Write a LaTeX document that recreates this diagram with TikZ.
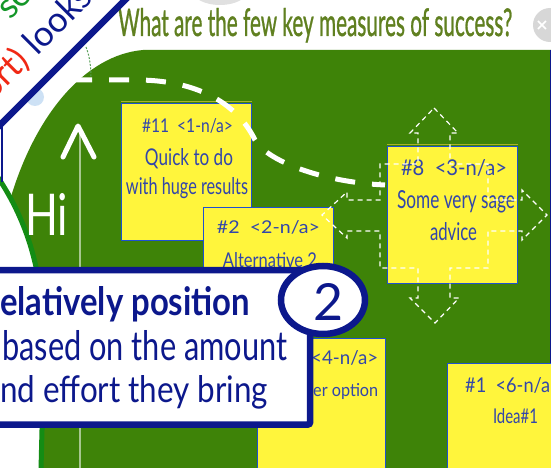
\documentclass[tikz,border=0pt]{standalone}
\usepackage{fontspec}
\setmainfont{Lato}
\newfontfamily\dejavu{DejaVu Sans}
\newfontfamily\titlefont[FakeBold=1.2]{Lato}
\usepackage{graphicx}
\newcommand{\fitbox}[3]{\resizebox{#1pt}{#2pt}{#3}}
\definecolor{panel}{RGB}{62,131,8}
\definecolor{navy}{RGB}{12,24,140}
\definecolor{titlegreen}{RGB}{96,128,32}
\definecolor{sticky}{RGB}{255,245,60}
\definecolor{boxblue}{RGB}{30,80,210}
\definecolor{boxtext}{RGB}{50,70,170}
\definecolor{olivetop}{RGB}{170,180,40}
\definecolor{arcgreen}{RGB}{20,140,20}
\definecolor{lightblue}{RGB}{205,225,245}
\definecolor{closegrey}{RGB}{215,215,215}
\definecolor{effortred}{RGB}{240,40,20}
\definecolor{segreen}{RGB}{20,150,40}
\definecolor{guidegreen}{RGB}{90,160,90}
\tikzset{
  ybox/.style={draw=boxblue, fill=sticky, line width=1.3pt, inner sep=0, anchor=north west},
  btxt/.style={text=boxtext, inner sep=0, anchor=base},
  ctxt/.style={text=navy, inner sep=0, anchor=base west},
  movecross/.style={draw=white, line width=1.2pt, dash pattern=on 5pt off 4pt},
  olivelin/.style={draw=olivetop, line width=1.5pt},
}
\begin{document}
\begin{tikzpicture}[x=1pt,y=-1pt]
\useasboundingbox (0,0) rectangle (551,468);
\fill[white] (0,0) rectangle (551,468);
% faint shadow at top
\fill[black!12] (220,-10) ellipse [x radius=28pt, y radius=15pt];
% title
\node[anchor=base west, inner sep=0, text=titlegreen] (title) at (118,36) {\fitbox{394}{28}{\titlefont What are the few key measures of success?}};
% close button
\fill[closegrey] (550,25) circle (17pt);
\node[text=white, inner sep=0] (close) at (542,26) {\dejavu\bfseries\fontsize{16}{16}\selectfont ×};
% green panel
\fill[panel] (551,50) -- (143,50) .. controls (85,55) and (35,115) .. (10,200) -- (0,240) -- (0,468) -- (551,468) -- cycle;
\draw[navy, line width=1.5pt] (550.5,50) -- (550.5,468);
% white circle with green border at the left
\fill[white] (-5,170) -- (-3,176) .. controls (35,232) and (44,290) .. (44,350) -- (41,470) -- (-5,470) -- cycle;
\draw[arcgreen, line width=5pt] (-3,176) .. controls (35,232) and (44,290) .. (44,350) -- (41,470);
% axis
\draw[white, opacity=0.55, line width=2pt] (80,130) -- (80,468);
\draw[white, line width=5pt, line cap=round, line join=round] (63,157) -- (78,126) -- (94,157);
\node[anchor=base west, inner sep=0, text=white] (hi) at (25,235) {\fitbox{43}{42}{Hi}};
% banner top-left
\fill[lightblue] (35,97) circle (9pt);
\fill[white] (-5,-5) -- (130,-5) -- (-5,130) -- cycle;
\draw[navy, line width=6.5pt] (-5,130) -- (130,-5);
\draw[navy, line width=2pt] (2,127) -- (2,182);
\node[rotate=45, anchor=base east, inner sep=0, text=navy] (looks) at (94.6,-0.6) {\fontsize{35}{35}\selectfont{\color{effortred}ort)} looks};
\node[rotate=45, anchor=base west, inner sep=0, text=segreen] (se) at (10,21) {\fontsize{35}{35}\selectfont se};
\draw[guidegreen, line width=1pt, dash pattern=on 2pt off 1.5pt] (86,47) .. controls (90,57) and (91,68) .. (91,79);
% sticky notes
\node[ybox, minimum width=130pt, minimum height=137pt] (b1) at (121,103) {};
\draw[olivelin] ([yshift=1.5pt]b1.north west) -- ([yshift=1.5pt]b1.north east);
\node[btxt] (t1a) at (187.5,132) {\fitbox{91}{14}{\#11\ \ <1-n/a>}};
\node[btxt] (t1b) at (189,165) {\fitbox{88}{17}{Quick to do}};
\node[btxt] (t1c) at (187,194) {\fitbox{122}{17}{with huge results}};
\node[ybox, minimum width=130pt, minimum height=100pt] (b2) at (203,207) {};
\node[btxt] (t2a) at (268.5,233) {\fitbox{103}{13}{\#2\ \ <2-n/a>}};
\node[btxt] (t2b) at (270,267) {\fitbox{94}{15}{Alternative 2}};
\node[ybox, minimum width=130pt, minimum height=137pt] (b8) at (387,146) {};
\draw[olivelin] ([yshift=1.5pt]b8.north west) -- ([yshift=1.5pt]b8.north east);
\node[btxt] (t8a) at (454,175) {\fitbox{106}{16}{\#8\ \ <3-n/a>}};
\node[btxt] (t8b) at (456,208) {\fitbox{118}{18}{Some very sage}};
\node[btxt] (t8c) at (453.5,240) {\fitbox{47}{18}{advice}};
\node[ybox, minimum width=128pt, minimum height=140pt] (b4) at (257,338) {};
\node[btxt, anchor=base west] (t4a) at (311,364) {\fitbox{67}{14}{<4-n/a>}};
\node[btxt, anchor=base west] (t4b) at (313,396) {\fitbox{65}{13}{er option}};
\node[ybox, minimum width=120pt, minimum height=120pt] (b6) at (447,363) {};
\node[btxt, anchor=base west] (t6a) at (465,392) {\fitbox{85}{15}{\#1\ \ <6-n/a}};
\node[btxt] (t6b) at (515.5,423) {\fitbox{45}{15}{Idea\#1}};
% move cross around note #8
\draw[movecross] (434,108) -- (458,133) -- (450,133) -- (450,164) -- (488,164) -- (488,200) -- (522,200) -- (522,190) -- (547,215) -- (522,240) -- (522,231) -- (488,231) -- (488,268) -- (450,268) -- (450,298) -- (459,298) -- (435,323) -- (410,298) -- (418,298) -- (418,268) -- (380,268) -- (380,231) -- (347,231) -- (347,238) -- (322,215) -- (347,192) -- (347,200) -- (380,200) -- (380,164) -- (418,164) -- (418,133) -- (410,133) -- cycle;
% dashed drag path
\coordinate (cs) at (72,80);
\coordinate (ce) at (385,185);
\draw[white, line width=5pt, dash pattern=on 20pt off 17pt] (cs) -- (140,80) .. controls (200,81) and (238,105) .. (255,140) .. controls (266,160) and (320,182) .. (ce);
% callout
\draw[navy, line width=6.5pt, fill=white, rounded corners=2pt] (-10,270) rectangle (310,424.5);
\node[ctxt] (c1) at (0,315) {\fitbox{250}{29}{\bfseries elatively position}};
\node[ctxt] (c2) at (2,360) {\fitbox{285}{30}{based on the amount}};
\node[ctxt] (c3) at (0,402) {\fitbox{268}{27}{nd effort they bring}};
\draw[navy, line width=6.5pt, fill=white] (323,300) ellipse [x radius=42pt, y radius=34pt];
\node[text=navy, inner sep=0, anchor=base] (two) at (328,320) {\fitbox{30}{37}{2}};
\end{tikzpicture}
\end{document}
